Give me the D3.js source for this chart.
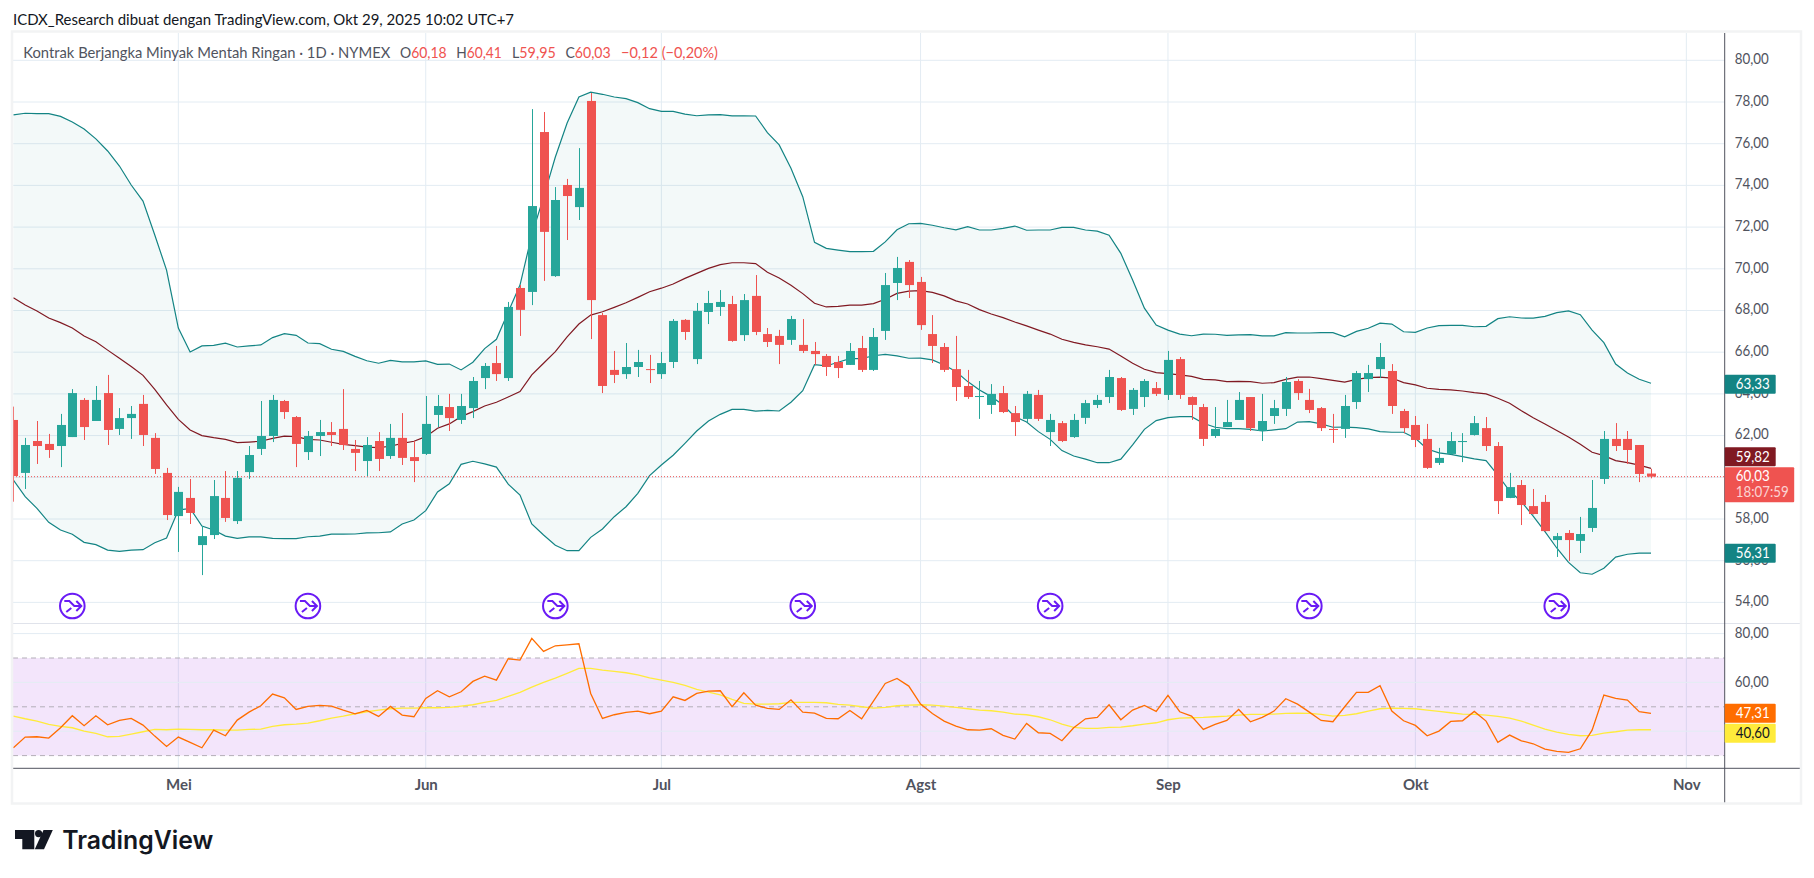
<!DOCTYPE html>
<html>
<head>
<meta charset="utf-8">
<script src="https://cdn.jsdelivr.net/npm/d3@7"></script>
<style>
html, body { margin: 0; padding: 0; background: #fff; overflow: hidden; }
svg { display: block; }
text { font-family: Lato, "Noto Sans", sans-serif; }
</style>
</head>
<body>
<svg id="chart" width="1814" height="878"></svg>
<script>
// daily candles, one entry per trading day, 140 in total
var opens = [62.75,60.21,61.74,61.60,61.50,61.93,63.71,62.70,64.04,62.32,62.84,63.52,61.89,60.21,58.14,59.01,56.75,57.23,59.01,57.90,
60.25,61.36,61.98,63.66,62.89,61.21,61.98,62.17,62.32,61.36,60.78,61.74,61.02,61.89,60.97,61.12,62.99,63.37,62.75,63.32,
64.76,65.48,64.76,69.08,68.89,76.56,69.65,74.02,72.96,78.05,67.78,65.15,64.95,65.29,65.19,64.95,65.53,67.55,65.67,67.93,
68.17,68.31,66.82,68.70,66.87,66.78,66.59,66.35,66.06,65.82,65.53,65.39,66.20,65.15,67.02,69.32,70.33,69.37,66.87,66.25,
65.19,64.38,63.85,63.47,64.04,63.08,62.80,63.95,62.17,62.60,61.93,62.85,63.47,63.85,64.76,63.28,63.85,64.28,63.95,65.67,
63.85,63.37,61.98,62.41,62.75,63.85,62.22,62.94,63.28,64.62,63.71,63.32,62.32,62.32,63.61,64.71,65.19,65.10,63.18,62.51,
61.84,60.69,61.12,61.69,62.03,62.36,61.50,59.01,59.63,58.62,58.82,56.99,57.33,56.95,57.57,59.92,61.84,61.84,61.55,60.18];
var highs = [63.39,61.89,62.70,62.08,63.04,64.23,63.80,64.38,64.91,63.32,63.42,63.95,62.12,60.45,59.54,59.92,57.66,59.87,60.30,60.30,
61.50,63.66,63.95,63.71,62.94,62.22,62.75,62.65,64.23,61.79,61.93,62.17,62.56,63.08,61.74,63.90,63.95,64.00,64.00,64.81,
65.48,66.30,68.41,69.22,77.66,77.52,73.92,74.31,75.79,78.43,67.88,66.06,66.44,66.11,65.87,66.01,67.59,67.59,68.36,68.94,
68.98,68.70,68.79,69.70,67.16,67.07,67.74,67.59,66.49,65.91,65.82,66.44,66.78,67.16,69.80,70.57,70.42,69.61,67.78,66.44,
66.78,65.15,64.62,64.47,64.38,63.42,64.14,64.19,63.04,62.70,63.04,63.71,63.95,65.15,64.81,64.28,64.71,64.57,66.06,65.77,
63.88,63.52,63.37,63.71,64.09,63.85,64.00,63.71,64.81,64.71,64.24,63.37,63.04,63.95,65.10,65.39,66.44,65.43,63.28,62.94,
62.56,61.41,62.17,62.12,62.94,62.89,61.69,60.21,59.87,59.44,59.15,57.33,57.47,58.10,59.87,62.22,62.60,62.22,61.55,60.41];
var lows = [58.83,59.44,60.64,60.93,60.49,61.93,61.79,62.70,61.55,62.03,61.84,61.50,60.16,57.95,56.42,57.76,55.31,57.04,57.86,57.76,
59.92,61.07,61.69,62.80,60.49,60.83,61.02,61.50,61.31,60.30,60.06,60.30,60.88,60.59,59.77,61.07,62.41,62.22,62.56,62.84,
64.23,64.62,64.62,66.78,68.26,69.42,69.61,71.38,72.34,66.63,64.04,64.52,64.72,64.81,64.52,64.72,65.24,66.59,65.43,67.35,
67.74,66.50,66.54,66.82,66.25,65.43,66.35,65.96,65.39,64.86,64.76,65.39,65.05,65.10,66.59,68.50,68.60,67.07,65.48,65.05,
63.66,63.76,62.80,63.04,63.08,61.98,62.65,62.70,61.50,61.69,61.89,62.56,63.32,63.56,63.18,62.99,63.37,63.90,63.71,63.76,
62.75,61.50,61.89,62.41,62.75,62.22,61.74,62.56,62.94,63.71,63.08,62.22,61.65,61.89,63.28,64.09,64.76,63.04,62.12,61.45,
60.40,60.59,61.10,60.73,62.00,61.26,58.24,59.00,57.71,58.22,57.40,56.18,55.99,56.37,57.38,59.68,61.26,60.64,59.77,59.95];
var closes = [60.06,61.55,61.50,61.31,62.51,64.04,62.41,63.71,62.27,62.84,63.04,62.03,60.40,58.19,59.30,58.29,57.18,59.10,58.05,59.97,
61.07,61.98,63.71,63.13,61.60,61.98,62.17,62.03,61.55,61.17,61.55,60.88,61.89,60.93,60.78,62.56,63.42,62.84,63.42,64.62,
65.34,64.95,68.17,68.03,73.01,71.77,73.30,73.49,73.88,68.50,64.38,64.91,65.29,65.53,65.15,65.48,67.50,66.97,67.98,68.36,
68.41,66.54,68.50,66.97,66.49,66.35,67.59,66.06,65.91,65.29,65.24,66.06,65.15,66.73,69.22,70.04,69.22,67.30,66.30,65.15,
64.33,63.85,63.90,64.00,63.13,62.65,64.00,62.80,62.75,61.74,62.75,63.56,63.71,64.81,63.23,64.19,64.62,64.00,65.63,63.95,
63.47,61.84,62.32,62.65,63.71,62.36,62.70,63.32,64.57,64.04,63.23,62.36,62.27,63.42,65.00,65.00,65.77,63.42,62.36,61.79,
60.45,60.93,61.74,61.74,62.60,61.50,58.86,59.53,58.67,58.24,57.42,57.18,56.99,57.28,58.53,61.84,61.50,61.31,60.16,60.03];

// bollinger bands
var bbUpper = [77.38,77.46,77.44,77.44,77.31,77.04,76.70,76.23,75.65,74.93,74.02,73.25,71.62,69.94,67.16,66.01,66.30,66.33,66.43,66.25,
66.30,66.35,66.70,66.89,66.81,66.44,66.41,66.14,66.04,65.80,65.59,65.47,65.61,65.54,65.54,65.58,65.42,65.43,65.15,65.52,
66.17,66.62,67.93,69.22,71.62,73.44,75.36,76.99,78.24,78.47,78.37,78.24,78.16,77.97,77.68,77.55,77.55,77.42,77.34,77.38,
77.39,77.33,77.34,77.33,76.53,75.94,74.82,73.46,71.27,70.98,70.90,70.82,70.82,70.84,71.29,71.87,72.16,72.18,72.09,71.97,
71.87,72.02,71.86,71.86,71.94,72.05,71.85,71.86,71.86,71.99,71.99,71.86,71.81,71.61,70.74,69.46,68.11,67.30,67.06,66.87,
66.79,66.87,66.86,66.81,66.83,66.84,66.78,66.78,66.94,66.92,66.92,66.94,66.94,66.74,67.00,67.15,67.39,67.35,66.98,66.95,
67.16,67.27,67.29,67.29,67.22,67.24,67.61,67.70,67.64,67.63,67.72,67.90,67.98,67.80,67.06,66.46,65.43,65.00,64.70,64.51];
var bbBasis = [68.61,68.26,67.98,67.64,67.42,67.16,66.78,66.50,66.10,65.71,65.31,64.89,64.22,63.47,62.78,62.27,62.00,61.90,61.82,61.66,
61.69,61.73,61.87,61.97,61.95,61.82,61.79,61.68,61.58,61.52,61.45,61.42,61.49,61.63,61.73,61.95,62.35,62.56,62.91,63.15,
63.42,63.60,63.85,64.11,64.91,65.47,66.03,66.74,67.35,67.78,67.94,68.15,68.37,68.63,68.90,69.07,69.27,69.54,69.78,70.02,
70.20,70.29,70.29,70.25,69.83,69.56,69.21,68.81,68.35,68.17,68.20,68.26,68.26,68.33,68.54,68.82,68.93,68.95,68.87,68.70,
68.46,68.31,68.04,67.83,67.66,67.45,67.26,67.06,66.87,66.62,66.47,66.35,66.26,66.15,65.82,65.47,65.18,65.02,64.97,64.91,
64.84,64.70,64.67,64.59,64.60,64.59,64.51,64.54,64.70,64.80,64.81,64.73,64.65,64.57,64.70,64.78,64.80,64.76,64.54,64.43,
64.27,64.22,64.19,64.14,64.06,64.00,63.79,63.55,63.19,62.86,62.56,62.24,61.93,61.58,61.20,61.04,60.80,60.70,60.58,60.43];
var bbLower = [59.87,59.07,58.51,57.84,57.47,57.27,56.88,56.77,56.51,56.45,56.51,56.53,56.86,57.09,58.43,58.51,57.66,57.47,57.18,57.07,
57.14,57.14,57.07,57.06,57.06,57.15,57.18,57.27,57.27,57.28,57.33,57.34,57.38,57.76,57.95,58.40,59.30,59.69,60.62,60.77,
60.64,60.49,59.67,59.15,57.76,57.23,56.74,56.48,56.48,57.12,57.52,58.11,58.59,59.23,60.08,60.59,61.06,61.63,62.22,62.70,
63.02,63.26,63.26,63.17,63.21,63.18,63.60,64.15,65.40,65.34,65.52,65.69,65.69,65.83,65.90,65.82,65.71,65.72,65.63,65.39,
65.07,64.59,64.19,63.87,63.47,62.91,62.65,62.19,61.82,61.28,61.02,60.87,60.70,60.70,60.87,61.55,62.30,62.72,62.86,62.91,
62.91,62.59,62.40,62.33,62.33,62.30,62.22,62.27,62.33,62.65,62.67,62.56,62.40,62.41,62.38,62.32,62.19,62.16,62.16,61.87,
61.36,61.17,61.10,60.99,60.88,60.80,60.11,59.34,58.83,58.14,57.39,56.61,55.92,55.42,55.35,55.64,56.17,56.31,56.36,56.36];

// rsi pane
var rsi = [33.21,37.58,37.72,37.18,41.41,46.33,42.23,46.33,42.64,44.42,45.23,42.50,37.99,33.76,37.58,35.40,33.21,40.45,38.13,44.55,
47.83,50.43,55.21,53.70,48.92,50.15,50.56,50.29,48.65,47.15,48.51,46.05,50.15,46.60,45.92,53.43,56.57,54.11,56.16,60.40,
62.58,60.94,69.69,69.14,78.02,72.69,75.01,75.42,75.83,55.48,45.23,46.74,47.69,48.24,47.15,48.24,54.11,52.61,55.48,56.44,
56.57,50.02,55.75,50.70,49.33,48.92,52.88,47.83,47.42,45.23,45.10,48.51,45.10,52.34,59.58,61.63,58.49,51.11,47.28,44.14,
42.09,40.59,40.45,41.00,38.27,36.77,43.19,39.36,39.09,36.08,41.41,45.10,45.64,50.84,44.69,48.65,50.56,48.10,54.66,47.97,
46.19,40.73,42.78,44.42,48.92,43.87,45.64,48.24,53.29,51.11,47.83,44.42,43.87,50.02,55.89,55.89,58.62,48.24,44.28,42.37,
38.13,40.04,44.01,44.28,48.10,44.14,35.40,38.40,36.08,34.85,32.67,31.71,31.30,32.80,40.45,54.80,53.43,52.75,47.97,47.31];
var rsiMa = [46.19,45.10,44.14,42.78,41.96,41.41,40.04,39.09,37.72,37.86,38.82,39.77,40.73,40.59,40.86,40.73,40.59,40.59,40.45,40.45,
40.73,40.86,41.96,42.64,42.91,43.32,44.28,45.37,46.19,47.15,47.97,48.65,49.20,49.47,49.47,49.61,49.61,49.74,50.29,50.84,
51.79,52.61,54.25,55.89,58.08,59.99,61.76,63.68,65.72,65.72,65.04,64.50,63.95,63.13,61.90,60.94,59.99,58.76,57.12,56.03,
54.93,53.02,51.38,51.11,51.11,51.25,51.79,51.79,51.79,51.66,50.97,50.70,50.02,49.47,49.74,50.43,50.70,50.84,50.70,50.29,
49.74,49.20,48.65,48.38,47.83,47.01,46.74,45.92,44.69,42.91,41.55,41.14,41.14,41.55,41.68,42.23,42.91,43.46,44.69,45.37,
45.51,45.64,45.92,46.19,46.60,46.87,46.87,47.01,47.28,47.42,47.28,46.87,46.19,46.46,47.15,48.24,49.20,49.47,49.33,49.20,
48.65,48.10,47.56,47.01,46.87,46.60,46.05,45.37,44.14,42.50,40.86,39.63,38.68,38.13,38.27,39.22,39.77,40.45,40.59,40.60];

var priceTicks = [80,78,76,74,72,70,68,66,64,62,60,58,56,54];
var rsiTicks = [80,60,40];
var rsiLevels = [70,50,30];
var monthNames = ["Mei","Jun","Jul","Agst","Sep","Okt","Nov"];
var monthBars = [14,35,55,77,98,119,142];
var eventBars = [5,25,46,67,88,110,131];

var colUp = "#26a69a", colDown = "#ef5350", colBand = "#138484", colBasis = "#801922";
var colRsi = "#ff6d00", colMa = "#ffeb3b", colGrid = "#e3ecf3", colAxis = "#50535e";
var fontSize = 15;

var paneLeft = 13, axisX = 1724.7, frameRight = 1801, frameTop = 33, frameBottom = 803;
var mainBottom = 623.5, rsiBottom = 768.3;

var svg = d3.select("#chart");
var bars = d3.range(opens.length);

var x = d3.scaleLinear().domain([0, 139]).range([13.4, 1651]);
var y = d3.scaleLinear().domain([80, 54]).range([60.3, 602.4]);
var yRsi = d3.scaleLinear().domain([80, 30]).range([633.6, 755.6]);

var comma = d3.formatLocale({decimal: ",", thousands: ".", grouping: [3], currency: ["", ""]}).format(".2f");

svg.append("clipPath").attr("id", "mainClip").append("rect")
	.attr("x", paneLeft).attr("y", frameTop).attr("width", axisX - paneLeft).attr("height", mainBottom - frameTop);
svg.append("clipPath").attr("id", "rsiClip").append("rect")
	.attr("x", paneLeft).attr("y", mainBottom).attr("width", axisX - paneLeft).attr("height", rsiBottom - mainBottom);

// squeeze a text to the width it has in the picture
function fit (sel, w) {
	return sel.attr("textLength", w).attr("lengthAdjust", "spacingAndGlyphs");
}

// header
fit(svg.append("text").attr("x", 13).attr("y", 25)
	.attr("font-size", fontSize).attr("fill", "#131722"), 501)
	.text("ICDX_Research dibuat dengan TradingView.com, Okt 29, 2025 10:02 UTC+7");

// grids
var grid = svg.append("g").attr("stroke", colGrid).attr("stroke-width", 1);
grid.selectAll(".gv").data(monthBars).join("line").attr("class", "gv")
	.attr("x1", d => x(d)).attr("x2", d => x(d)).attr("y1", frameTop).attr("y2", rsiBottom);
grid.selectAll(".gh").data(priceTicks).join("line").attr("class", "gh")
	.attr("x1", paneLeft).attr("x2", axisX).attr("y1", d => y(d)).attr("y2", d => y(d));

// rsi pane background
svg.append("rect").attr("x", paneLeft).attr("width", axisX - paneLeft)
	.attr("y", yRsi(70)).attr("height", yRsi(30) - yRsi(70))
	.attr("fill", "#9c27e0").attr("fill-opacity", 0.12);
grid = svg.append("g").attr("stroke", colGrid).attr("stroke-width", 1);
grid.selectAll("line").data(rsiTicks).join("line")
	.attr("x1", paneLeft).attr("x2", axisX).attr("y1", d => yRsi(d)).attr("y2", d => yRsi(d));
svg.append("g").selectAll("line").data(rsiLevels).join("line")
	.attr("x1", paneLeft).attr("x2", axisX).attr("y1", d => yRsi(d)).attr("y2", d => yRsi(d))
	.attr("stroke", "#b3aeb8").attr("stroke-dasharray", "5 4");

// main pane
var main = svg.append("g").attr("clip-path", "url(#mainClip)");

main.append("path").datum(bars)
	.attr("fill", colBand).attr("fill-opacity", 0.05)
	.attr("d", d3.area().x(d => x(d)).y0(d => y(bbLower[d])).y1(d => y(bbUpper[d])));

function seriesLine (yScale, values) {
	return d3.line().x(d => x(d)).y(d => yScale(values[d]));
}

main.append("path").datum(bars).attr("fill", "none").attr("stroke", colBand).attr("stroke-width", 1.2)
	.attr("d", seriesLine(y, bbUpper));
main.append("path").datum(bars).attr("fill", "none").attr("stroke", colBand).attr("stroke-width", 1.2)
	.attr("d", seriesLine(y, bbLower));
main.append("path").datum(bars).attr("fill", "none").attr("stroke", colBasis).attr("stroke-width", 1.2)
	.attr("d", seriesLine(y, bbBasis));

// last price line
main.append("line").attr("x1", paneLeft).attr("x2", axisX)
	.attr("y1", y(closes[139])).attr("y2", y(closes[139]))
	.attr("stroke", colDown).attr("stroke-dasharray", "1 2");

// candles
var candleCol = d => closes[d] >= opens[d] ? colUp : colDown;
main.selectAll(".wick").data(bars).join("line").attr("class", "wick")
	.attr("x1", d => Math.round(x(d)) + 0.5).attr("x2", d => Math.round(x(d)) + 0.5)
	.attr("y1", d => y(highs[d])).attr("y2", d => y(lows[d]))
	.attr("stroke", candleCol);
main.selectAll(".body").data(bars).join("rect").attr("class", "body")
	.attr("x", d => Math.round(x(d)) - 4).attr("width", 9)
	.attr("y", d => y(Math.max(opens[d], closes[d])))
	.attr("height", d => Math.max(1, Math.abs(y(opens[d]) - y(closes[d]))))
	.attr("fill", candleCol);

// split markers
var ev = main.selectAll(".ev").data(eventBars).join("g").attr("class", "ev")
	.attr("transform", d => `translate(${x(d)},606)`);
ev.append("circle").attr("r", 12.3).attr("fill", "#fff").attr("stroke", "#6a1bf5").attr("stroke-width", 2);
ev.append("path").attr("fill", "none").attr("stroke", "#6a1bf5").attr("stroke-width", 2)
	.attr("d", "M-8,-5 L-3,-5 L2,0 L9,0 M4,-5 L9,0 L4,5 M-6,6 L-1,2");

// rsi lines
var lower = svg.append("g").attr("clip-path", "url(#rsiClip)");
lower.append("path").datum(bars).attr("fill", "none").attr("stroke", colMa).attr("stroke-width", 1.3)
	.attr("d", seriesLine(yRsi, rsiMa));
lower.append("path").datum(bars).attr("fill", "none").attr("stroke", colRsi).attr("stroke-width", 1.3)
	.attr("d", seriesLine(yRsi, rsi));

// frame and separators
svg.append("line").attr("x1", paneLeft).attr("x2", frameRight).attr("y1", mainBottom).attr("y2", mainBottom)
	.attr("stroke", "#e0e3eb").attr("stroke-width", 1);
svg.append("line").attr("x1", paneLeft).attr("x2", frameRight).attr("y1", rsiBottom).attr("y2", rsiBottom)
	.attr("stroke", colAxis).attr("stroke-width", 1);
svg.append("line").attr("x1", axisX).attr("x2", axisX).attr("y1", frameTop).attr("y2", frameBottom)
	.attr("stroke", colAxis).attr("stroke-width", 1);
svg.append("rect").attr("x", 12).attr("y", frameTop - 1.5).attr("width", frameRight - 12).attr("height", frameBottom - frameTop + 2)
	.attr("fill", "none").attr("stroke", "#f2f3f4").attr("stroke-width", 2.5);

// axes
var priceAxis = d3.axisRight(y).tickValues(priceTicks).tickFormat(comma).tickSize(0).tickPadding(10);
var rsiAxis = d3.axisRight(yRsi).tickValues(rsiTicks).tickFormat(comma).tickSize(0).tickPadding(10);
var timeAxis = d3.axisBottom(x).tickValues(monthBars).tickFormat((d, i) => monthNames[i]).tickSize(0).tickPadding(11);

[[priceAxis, `translate(${axisX},-1.5)`], [rsiAxis, `translate(${axisX},-1)`]].forEach(function (a) {
	var g = svg.append("g").attr("transform", a[1]).call(a[0]);
	g.select(".domain").remove();
	fit(g.selectAll("text").attr("fill", colAxis).attr("font-size", fontSize).style("font-family", 'Lato, "Noto Sans", sans-serif'), 34);
});
var tg = svg.append("g").attr("transform", `translate(0,${rsiBottom})`).call(timeAxis);
tg.select(".domain").remove();
tg.selectAll("text").attr("fill", colAxis).attr("font-size", fontSize).attr("font-weight", 700).style("font-family", 'Lato, "Noto Sans", sans-serif');

// legend
var legend = svg.append("g").attr("font-size", fontSize);
fit(legend.append("text").attr("x", 23.3).attr("y", 58).attr("fill", colAxis), 367)
	.text("Kontrak Berjangka Minyak Mentah Ringan · 1D · NYMEX");
var ohlcNames = ["O", "H", "L", "C"];
var ohlcVals = [opens[139], highs[139], lows[139], closes[139]];
var ohlcX = [400, 456.3, 512, 565.4];
var ohlcW = [46.7, 45.5, 43.7, 45.3];
ohlcNames.forEach(function (n, i) {
	var t = fit(legend.append("text").attr("x", ohlcX[i]).attr("y", 58).attr("fill", colAxis), ohlcW[i]).text(n);
	t.append("tspan").attr("fill", colDown).text(comma(ohlcVals[i]));
});
fit(legend.append("text").attr("x", 621).attr("y", 58).attr("fill", colDown), 97).text("−0,12 (−0,20%)");

// last value labels on the price scale
var tags = [
	{text: "63,33", cy: y(bbUpper[139]) + 1, fill: colBand, col: "#fff"},
	{text: "56,31", cy: y(bbLower[139]), fill: colBand, col: "#fff"},
	{text: "59,82", cy: y(bbBasis[139]) - 11.5, fill: colBasis, col: "#fff"},
	{text: "47,31", cy: yRsi(rsi[139]), fill: colRsi, col: "#fff"},
	{text: "40,60", cy: yRsi(rsiMa[139]) + 3.5, fill: colMa, col: "#131722"}
];
var tag = svg.selectAll(".tag").data(tags).join("g").attr("class", "tag")
	.attr("transform", d => `translate(${axisX},${d.cy})`);
tag.append("rect").attr("y", -9.5).attr("width", 51).attr("height", 19).attr("rx", 1).attr("fill", d => d.fill);
fit(tag.append("text").attr("x", 11).attr("y", 5).attr("font-size", fontSize).attr("fill", d => d.col), 34).text(d => d.text);

var closeTag = svg.append("g").attr("transform", `translate(${axisX},${y(closes[139])})`);
closeTag.append("rect").attr("y", -9.5).attr("width", 69.5).attr("height", 35).attr("rx", 1).attr("fill", colDown);
fit(closeTag.append("text").attr("x", 11).attr("y", 4).attr("font-size", fontSize).attr("fill", "#fff"), 34).text(comma(closes[139]));
fit(closeTag.append("text").attr("x", 11).attr("y", 20).attr("font-size", fontSize).attr("fill", "#fff").attr("fill-opacity", 0.75), 53).text("18:07:59");

// logo
var logo = svg.append("g").attr("fill", "#131722");
logo.append("path").attr("d", "M15,830 H34.3 V849.3 H22.3 V839 H15 Z");
logo.append("circle").attr("cx", 38.6).attr("cy", 833.6).attr("r", 3.6);
logo.append("path").attr("d", "M43.5,830 H52.8 L44,849.3 H34.8 Z");
fit(svg.append("text").attr("x", 62.3).attr("y", 849.3).attr("font-size", 25).attr("font-weight", 600)
	.attr("fill", "#131722").style("font-family", 'Inter, "Noto Sans", sans-serif'), 151).text("TradingView");
</script>
</body>
</html>
